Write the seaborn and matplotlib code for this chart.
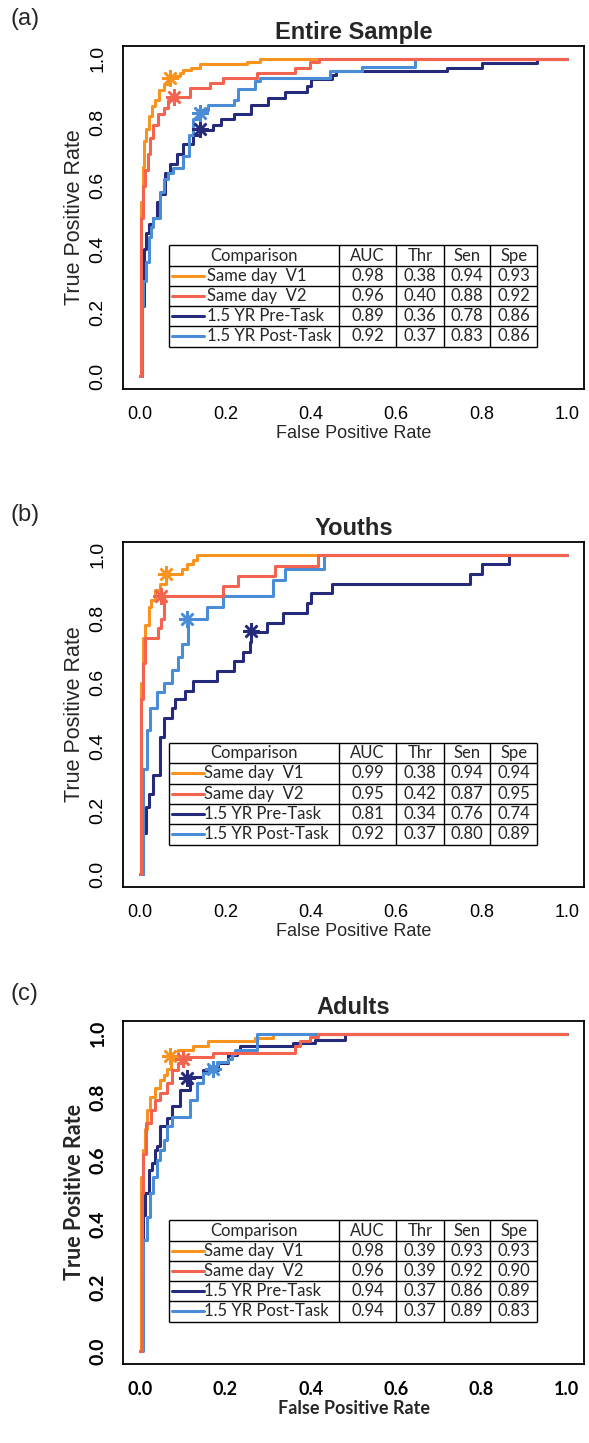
import matplotlib
matplotlib.use("Agg")
import matplotlib.pyplot as plt
from matplotlib.lines import Line2D
import seaborn as sns

# ===============================
# Data (ROC step points: fpr at each riser, tpr at its top)
# ===============================
labels = ["Same day  V1", "Same day  V2", "1.5 YR Pre-Task", "1.5 YR Post-Task"]
colors = ["#F7931E", "#F26450", "#252A7A", "#4A8DD6"]

# (a) Entire sample
a_v1_fpr = [0, 0.002, 0.006, 0.010, 0.014, 0.020, 0.027, 0.035, 0.045, 0.055, 0.068, 0.094, 0.101, 0.12, 0.14, 0.25, 0.28, 1.0]
a_v1_tpr = [0, 0.55, 0.66, 0.74, 0.78, 0.82, 0.85, 0.87, 0.90, 0.92, 0.945, 0.955, 0.965, 0.97, 0.983, 0.99, 1.0, 1.0]
a_v2_fpr = [0, 0.003, 0.008, 0.012, 0.018, 0.023, 0.030, 0.043, 0.055, 0.066, 0.086, 0.117, 0.164, 0.195, 0.273, 0.363, 0.398, 0.42, 1.0]
a_v2_tpr = [0, 0.50, 0.60, 0.65, 0.70, 0.75, 0.79, 0.825, 0.845, 0.87, 0.88, 0.907, 0.923, 0.939, 0.955, 0.97, 0.99, 1.0, 1.0]
a_pre_fpr = [0, 0.004, 0.010, 0.015, 0.022, 0.031, 0.040, 0.047, 0.058, 0.070, 0.086, 0.10, 0.125, 0.14, 0.17, 0.19, 0.22, 0.26, 0.30, 0.34, 0.39, 0.40, 0.45, 0.46, 0.72, 0.80, 0.93, 1.0]
a_pre_tpr = [0, 0.22, 0.40, 0.45, 0.48, 0.50, 0.55, 0.575, 0.64, 0.67, 0.70, 0.73, 0.76, 0.776, 0.79, 0.81, 0.825, 0.855, 0.875, 0.895, 0.915, 0.935, 0.95, 0.96, 0.97, 0.985, 1.0, 1.0]
a_post_fpr = [0, 0.004, 0.008, 0.014, 0.020, 0.025, 0.031, 0.047, 0.055, 0.065, 0.078, 0.10, 0.115, 0.125, 0.136, 0.16, 0.22, 0.23, 0.27, 0.28, 0.445, 0.52, 0.645, 1.0]
a_post_tpr = [0, 0.22, 0.30, 0.36, 0.44, 0.47, 0.50, 0.58, 0.62, 0.64, 0.655, 0.695, 0.76, 0.81, 0.84, 0.855, 0.87, 0.905, 0.93, 0.94, 0.96, 0.975, 1.0, 1.0]
a_auc = ["0.98", "0.96", "0.89", "0.92"]
a_thr = ["0.38", "0.40", "0.36", "0.37"]
a_sen = [0.94, 0.88, 0.78, 0.83]
a_spe = [0.93, 0.92, 0.86, 0.86]

# (b) Youths
b_v1_fpr = [0, 0.003, 0.008, 0.012, 0.020, 0.026, 0.035, 0.047, 0.061, 0.098, 0.11, 0.125, 0.133, 1.0]
b_v1_tpr = [0, 0.60, 0.74, 0.78, 0.835, 0.86, 0.89, 0.91, 0.94, 0.955, 0.97, 0.985, 1.0, 1.0]
b_v2_fpr = [0, 0.003, 0.008, 0.012, 0.043, 0.050, 0.055, 0.195, 0.23, 0.316, 0.418, 1.0]
b_v2_tpr = [0, 0.55, 0.66, 0.74, 0.77, 0.80, 0.87, 0.903, 0.934, 0.966, 1.0, 1.0]
b_pre_fpr = [0, 0.008, 0.014, 0.022, 0.031, 0.047, 0.055, 0.074, 0.082, 0.105, 0.123, 0.18, 0.22, 0.242, 0.258, 0.26, 0.297, 0.336, 0.39, 0.40, 0.45, 0.774, 0.80, 0.865, 1.0]
b_pre_tpr = [0, 0.13, 0.21, 0.25, 0.31, 0.43, 0.49, 0.52, 0.55, 0.575, 0.606, 0.636, 0.667, 0.697, 0.727, 0.758, 0.788, 0.818, 0.848, 0.879, 0.909, 0.939, 0.97, 1.0, 1.0]
b_post_fpr = [0, 0.008, 0.016, 0.023, 0.039, 0.055, 0.074, 0.09, 0.098, 0.113, 0.156, 0.195, 0.312, 0.34, 0.43, 1.0]
b_post_tpr = [0, 0.33, 0.45, 0.52, 0.57, 0.60, 0.64, 0.68, 0.72, 0.80, 0.835, 0.87, 0.92, 0.955, 1.0, 1.0]
b_auc = ["0.99", "0.95", "0.81", "0.92"]
b_thr = ["0.38", "0.42", "0.34", "0.37"]
b_sen = [0.94, 0.87, 0.76, 0.80]
b_spe = [0.94, 0.95, 0.74, 0.89]

# (c) Adults
c_v1_fpr = [0, 0.003, 0.008, 0.012, 0.016, 0.023, 0.035, 0.047, 0.055, 0.062, 0.072, 0.09, 0.125, 0.16, 0.269, 0.312, 1.0]
c_v1_tpr = [0, 0.55, 0.634, 0.70, 0.76, 0.80, 0.83, 0.855, 0.87, 0.89, 0.926, 0.95, 0.96, 0.976, 0.986, 1.0, 1.0]
c_v2_fpr = [0, 0.004, 0.008, 0.015, 0.025, 0.035, 0.047, 0.062, 0.074, 0.09, 0.103, 0.172, 0.363, 0.375, 0.398, 0.418, 1.0]
c_v2_tpr = [0, 0.50, 0.62, 0.72, 0.76, 0.792, 0.813, 0.845, 0.886, 0.907, 0.926, 0.938, 0.96, 0.976, 0.99, 1.0, 1.0]
c_pre_fpr = [0, 0.004, 0.008, 0.012, 0.020, 0.027, 0.035, 0.039, 0.047, 0.062, 0.074, 0.094, 0.116, 0.148, 0.183, 0.207, 0.226, 0.234, 0.359, 0.41, 0.48, 1.0]
c_pre_tpr = [0, 0.23, 0.43, 0.50, 0.571, 0.592, 0.634, 0.645, 0.708, 0.734, 0.771, 0.824, 0.863, 0.886, 0.908, 0.934, 0.949, 0.96, 0.97, 0.98, 1.0, 1.0]
c_post_fpr = [0, 0.006, 0.016, 0.023, 0.031, 0.039, 0.047, 0.055, 0.062, 0.074, 0.117, 0.133, 0.148, 0.162, 0.18, 0.205, 0.215, 0.222, 0.273, 1.0]
c_post_tpr = [0, 0.35, 0.424, 0.497, 0.55, 0.603, 0.634, 0.666, 0.708, 0.739, 0.792, 0.845, 0.876, 0.897, 0.91, 0.92, 0.935, 0.95, 1.0, 1.0]
c_auc = ["0.98", "0.96", "0.94", "0.94"]
c_thr = ["0.39", "0.39", "0.37", "0.37"]
c_sen = [0.93, 0.92, 0.86, 0.89]
c_spe = [0.93, 0.90, 0.89, 0.83]

panels = [
    ("(a)", "Entire Sample", [(a_v1_fpr, a_v1_tpr), (a_v2_fpr, a_v2_tpr), (a_pre_fpr, a_pre_tpr), (a_post_fpr, a_post_tpr)], a_auc, a_thr, a_sen, a_spe),
    ("(b)", "Youths", [(b_v1_fpr, b_v1_tpr), (b_v2_fpr, b_v2_tpr), (b_pre_fpr, b_pre_tpr), (b_post_fpr, b_post_tpr)], b_auc, b_thr, b_sen, b_spe),
    ("(c)", "Adults", [(c_v1_fpr, c_v1_tpr), (c_v2_fpr, c_v2_tpr), (c_pre_fpr, c_pre_tpr), (c_post_fpr, c_post_tpr)], c_auc, c_thr, c_sen, c_spe),
]

# ===============================
# Figure
# ===============================
sns.set_style("white")
W, H = 589, 1443
fig = plt.figure(figsize=(W / 100, H / 100), dpi=100)

HELV = "Liberation Sans"
GILL = "Lato"

# axes boxes in pixels (left, top, right, bottom)
boxes = [(123, 46, 584, 389), (123, 542, 584, 887), (123, 1021, 584, 1364)]
draw_order = [0, 2, 3, 1]

# table geometry (data coords)
col_x = [0.0686, 0.466, 0.600, 0.712, 0.820, 0.930]
row_y = [0.412, 0.347, 0.284, 0.221, 0.158, 0.093]

for p, (tag, title, curves, auc, thr, sen, spe) in enumerate(panels):
    l, t, r, b = boxes[p]
    ax = fig.add_axes([l / W, 1 - b / H, (r - l) / W, (b - t) / H])
    bold = p == 2
    fam = GILL if bold else HELV
    wt = "bold" if bold else "normal"

    for i in draw_order:
        fpr, tpr = curves[i]
        sns.lineplot(x=fpr, y=tpr, ax=ax, color=colors[i], lw=2.2, sort=False,
                     estimator=None, drawstyle="steps-post", legend=False)
    for i in draw_order:
        ax.plot(1 - spe[i], sen[i], marker=(8, 2, 0), ms=12, mew=1.8,
                color=colors[i], ls="none")

    ax.set_xlim(-0.04, 1.04)
    ax.set_ylim(-0.04, 1.04)
    ticks = [0, 0.2, 0.4, 0.6, 0.8, 1.0]
    ax.set_xticks(ticks)
    ax.set_yticks(ticks)
    ax.set_xticklabels([f"{v:.1f}" for v in ticks], family=fam, fontweight=wt, fontsize=13)
    ax.set_yticklabels([f"{v:.1f}" for v in ticks], rotation=90, va="center",
                       family=fam, fontweight=wt, fontsize=14)
    ax.tick_params(direction="out", length=10, width=1.3, pad=2, colors="black")
    for s in ax.spines.values():
        s.set_visible(True)
        s.set_color("black")
        s.set_linewidth(1.3)
    ax.set_xlabel("False Positive Rate", labelpad=2, family=fam, fontweight=wt, fontsize=13)
    ax.set_ylabel("True Positive Rate", labelpad=3, family=fam, fontweight=wt, fontsize=15.5)
    ax.set_title(title, fontsize=17, fontweight="bold", family=HELV, pad=5)
    fig.text(10 / W, 1 - (t - 27) / H, tag, fontsize=17, family=HELV, va="center", ha="left")

    # table with legend keys
    tk = dict(color="black", lw=1.0, solid_capstyle="butt")
    for y in row_y:
        ax.add_line(Line2D([col_x[0], col_x[-1]], [y, y], **tk))
    for x in col_x:
        ax.add_line(Line2D([x, x], [row_y[0], row_y[-1]], **tk))
    tf = dict(family=GILL, fontsize=12, va="center")
    header = ["Comparison", "AUC", "Thr", "Sen", "Spe"]
    for j, h in enumerate(header):
        ax.text((col_x[j] + col_x[j + 1]) / 2, (row_y[0] + row_y[1]) / 2, h, ha="center", **tf)
    for i in range(4):
        yc = (row_y[i + 1] + row_y[i + 2]) / 2
        ax.add_line(Line2D([col_x[0] + 0.006, col_x[0] + 0.08], [yc, yc], color=colors[i], lw=2.2))
        ax.text(col_x[0] + 0.088 if p == 0 else col_x[0] + 0.082, yc, labels[i], ha="left", **tf)
        vals = [auc[i], thr[i], f"{sen[i]:.2f}", f"{spe[i]:.2f}"]
        for j, v in enumerate(vals):
            ax.text((col_x[j + 1] + col_x[j + 2]) / 2, yc, v, ha="center", **tf)

fig.savefig("out.png", dpi=100)
